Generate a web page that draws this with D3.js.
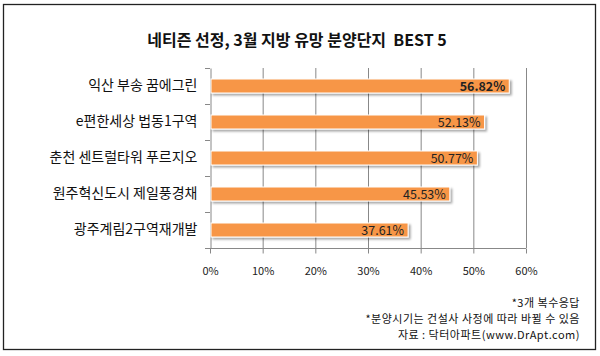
<!DOCTYPE html>
<html><head><meta charset="utf-8">
<script src="https://cdn.jsdelivr.net/npm/d3@7"></script>
<style>body{margin:0;background:#fff}svg{display:block;font-family:"Malgun Gothic","Noto Sans CJK KR",sans-serif}</style>
</head><body><svg id="c" width="600" height="356"></svg>
<script>
const categories = ["익산 부송 꿈에그린","e편한세상 법동1구역","춘천 센트럴타워 푸르지오","원주혁신도시 제일풍경채","광주계림2구역재개발"];
const values = [56.82,52.13,50.77,45.53,37.61];
const ticks = [0,10,20,30,40,50,60];
const title = "네티즌 선정, 3월 지방 유망 분양단지\u00a0\u00a0BEST 5";
const notes = ["*3개 복수응답","*분양시기는 건설사 사정에 따라 바뀔 수 있음","자료 : 닥터아파트(www.DrApt.com)"];

const svg = d3.select("#c");
svg.append("rect").attr("x",3.5).attr("y",4.5).attr("width",592).attr("height",345)
  .attr("fill","#fff").attr("stroke","#222").attr("stroke-width",1.3);
const defs = svg.append("defs");
const f = defs.append("filter").attr("id","sh").attr("x","-10%").attr("y","-50%").attr("width","130%").attr("height","220%");
f.append("feDropShadow").attr("dx",2).attr("dy",2).attr("stdDeviation",1).attr("flood-color","#000").attr("flood-opacity",0.35);

svg.append("text").attr("x",297).attr("y",46).attr("text-anchor","middle")
  .attr("font-size",16).attr("font-weight","bold").attr("fill","#111").text(title);

const x = d3.scaleLinear().domain([0,60]).range([210,526]);
const yb = d3.scaleBand().domain(categories).range([68,248]);

// grid
svg.append("g").selectAll("line").data(ticks.slice(1)).join("line")
  .attr("x1",d=>x(d)+0.5).attr("x2",d=>x(d)+0.5).attr("y1",68).attr("y2",248)
  .attr("stroke","#888").attr("stroke-width",1);

// x axis
const gx = svg.append("g").attr("transform","translate(0,248.5)")
  .call(d3.axisBottom(x).tickValues(ticks).tickFormat(d=>d+"%").tickSize(5).tickPadding(14));
gx.select(".domain").attr("stroke","#888").attr("d","M210,0H526");
gx.selectAll(".tick line").attr("stroke","#888");
gx.selectAll("text").attr("font-size",11).attr("fill","#222").attr("font-family","Malgun Gothic, Noto Sans CJK KR, sans-serif");

// y axis
const gy = svg.append("g").attr("transform","translate(210.5,0)")
  .call(d3.axisLeft(yb).tickSize(0).tickPadding(13));
gy.select(".domain").attr("stroke","#888");
gy.selectAll("text").attr("font-size",14).attr("fill","#111").attr("font-family","Malgun Gothic, Noto Sans CJK KR, sans-serif");
svg.append("g").selectAll("line").data([68,104,140,176,212,248]).join("line")
  .attr("x1",205).attr("x2",210).attr("y1",d=>d+0.5).attr("y2",d=>d+0.5).attr("stroke","#888");

// bars
svg.append("g").selectAll("rect").data(values).join("rect")
  .attr("x",x(0)+1).attr("y",(d,i)=>yb(categories[i])+yb.bandwidth()/2-7)
  .attr("width",d=>x(d)-x(0)-1).attr("height",14)
  .attr("fill","#F79646").attr("stroke","#fff").attr("stroke-width",1).attr("filter","url(#sh)");

svg.append("g").selectAll("text").data(values).join("text")
  .attr("x",d=>x(d)-4).attr("y",(d,i)=>yb(categories[i])+yb.bandwidth()/2+4.5)
  .attr("text-anchor","end").attr("font-size",12.5).attr("fill","#222")
  .attr("font-weight",(d,i)=>i===0?"bold":"normal")
  .text(d=>d.toFixed(2)+"%");

svg.append("g").selectAll("text").data(notes).join("text")
  .attr("x",580).attr("y",(d,i)=>307+i*16).attr("text-anchor","end")
  .attr("font-size",11).attr("letter-spacing",0.5).attr("fill","#111").text(d=>d);
</script></body></html>
